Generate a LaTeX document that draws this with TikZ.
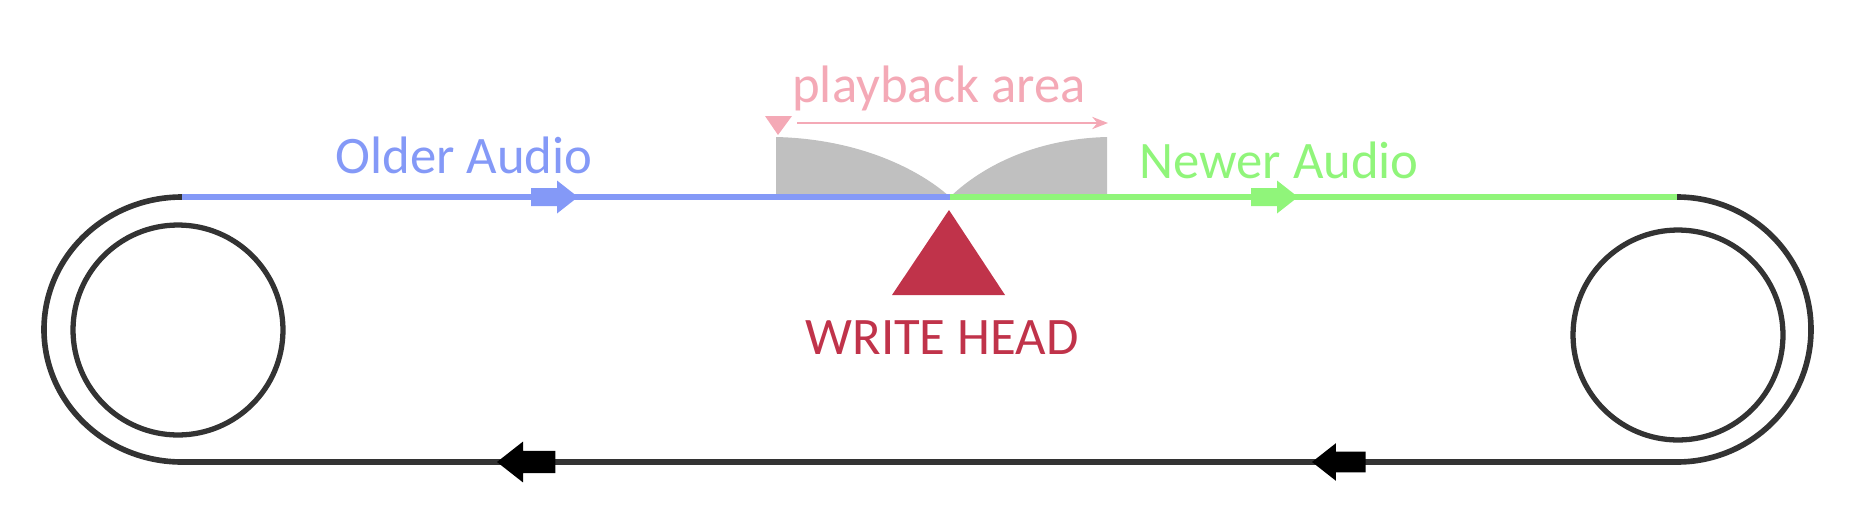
\documentclass[tikz,border=0pt]{standalone}
\usepackage{fontspec}
\setmainfont{Carlito}
\usetikzlibrary{positioning, arrows.meta}
\definecolor{olderblue}{RGB}{132,153,247}
\definecolor{newergreen}{RGB}{144,245,122}
\definecolor{playpink}{RGB}{244,169,182}
\definecolor{headred}{RGB}{192,51,74}
\definecolor{tapegray}{RGB}{51,51,51}
\definecolor{windowgray}{RGB}{192,192,192}
\tikzset{
x=0.02cm, y=-0.02cm, % one unit is one pixel, y runs downwards
tape/.style={line width=3.6pt, draw=tapegray}, % the running tape
reel/.style={circle, draw=tapegray, line width=3pt, minimum size=4.2cm, inner sep=0pt}, % the two spools
label text/.style={font=\fontsize{30}{36}\selectfont, anchor=base}, % all the captions
fat arrow/.pic={\fill (0,0) -- (-21,-16.5) -- (-21,-9) -- (-47,-9) -- (-47,9) -- (-21,9) -- (-21,16.5) -- cycle;}, % tip at the origin
}

\begin{document}
\begin{tikzpicture}
\useasboundingbox (0,0) rectangle (1874,528);
% ends of the tape
\coordinate (lt) at (182,197);
\coordinate (lb) at (182,462);
\coordinate (rt) at (1677,197);
\coordinate (rb) at (1677,462);
\coordinate (mid) at (950,197);
% playback window
\fill[windowgray] (776,197) -- (776,137) .. controls (860,139) and (920,170) .. (mid) -- cycle;
\fill[windowgray] (mid) .. controls (978,170) and (1030,139) .. (1107,137) -- (1107,197) -- cycle;
% reels
\node[reel] (leftreel) at (178,330) {};
\node[reel] (rightreel) at (1678,335) {};
% tape loop
\draw[tape, line width=3.2pt] (lt) arc[start angle=270, end angle=90, x radius=138, y radius=132.5];
\draw[tape, line width=3.2pt] (rt) arc[start angle=270, end angle=450, x radius=134, y radius=132.5];
\draw[tape, draw=olderblue] (lt) -- (mid);
\draw[tape, draw=newergreen] (mid) -- (rt);
\draw[tape] (lb) -- (rb);
% direction marks
\pic[olderblue] at (578,197) {fat arrow};
\pic[newergreen] at (1298,197) {fat arrow};
\pic[black, rotate=180, scale=1.24] at (497,462) {fat arrow};
\pic[black, rotate=180, scale=1.14] at (1312,462) {fat arrow};
% write head
\coordinate (head) at (949,210);
\fill[headred] (head) -- (1005,295) -- (892,295) -- cycle;
% playback area marker
\coordinate (pstart) at (797,123);
\coordinate (pend) at (1108,123);
\fill[playpink] (765,116) -- (792,116) -- (778,135) -- cycle;
\draw[playpink, line width=1pt, -{Stealth[length=9pt, width=7pt]}] (pstart) -- (pend);
% captions
\node[label text, text=olderblue] (older) at (464,173) {Older Audio};
\node[label text, text=newergreen] (newer) at (1279,178) {Newer Audio};
\node[label text, text=playpink] (playback) at (939,102) {playback area};
\node[label text, text=headred] (writehead) at (942,354) {WRITE HEAD};
\end{tikzpicture}
\end{document}
